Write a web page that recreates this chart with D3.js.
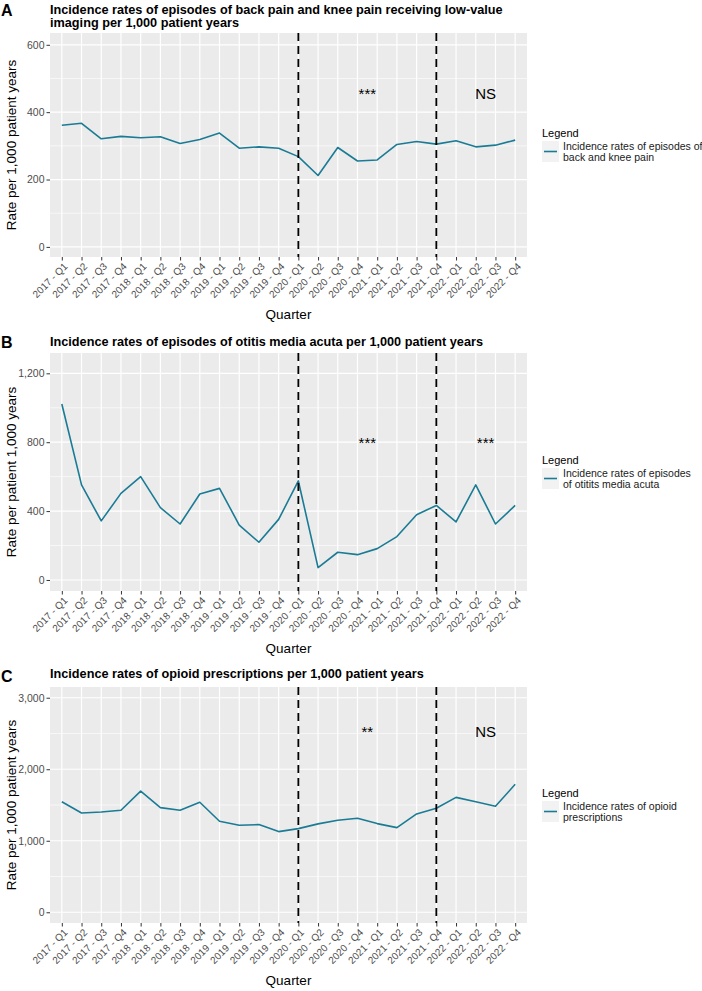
<!DOCTYPE html>
<html>
<head>
<meta charset="utf-8">
<script src="https://cdn.jsdelivr.net/npm/d3@7"></script>
<style>
  body { margin: 0; background: #fff; }
  svg { font-family: "Liberation Sans", Arial, sans-serif; }
</style>
</head>
<body>
<svg id="main" width="702" height="991"></svg>
<script>
// quarters on the x axis
var quarters = [];
[2017, 2018, 2019, 2020, 2021, 2022].forEach(function(yr) {
  ["Q1", "Q2", "Q3", "Q4"].forEach(function(q) { quarters.push(yr + " - " + q); });
});

// values (rate per 1,000 patient years)
var backKneeRates = [361, 367, 321, 328, 324, 327, 307, 319, 338, 293, 297, 293,
                     268, 212, 295, 255, 258, 304, 313, 305, 315, 297, 302, 317];
var otitisRates = [1022, 552, 343, 503, 600, 420, 325, 499, 532, 319, 219, 352,
                   575, 72, 161, 147, 182, 252, 379, 433, 337, 552, 325, 433];
var opioidRates = [1546, 1389, 1403, 1426, 1695, 1463, 1426, 1538, 1273, 1217, 1226, 1128,
                   1170, 1236, 1287, 1315, 1240, 1184, 1375, 1454, 1607, 1546, 1482, 1789];

// dashed break lines
var breakQuarters = ["2020 - Q1", "2021 - Q4"];

// significance labels per period
var sigA = ["***", "NS"];
var sigB = ["***", "***"];
var sigC = ["**", "NS"];

var ticksA = [0, 200, 400, 600];
var ticksB = [0, 400, 800, 1200];
var ticksC = [0, 1000, 2000, 3000];

var svg = d3.select("#main");
var teal = "#1a7b95";
var left = 50, right = 527;

function drawPanel(cfg)
{
  var g = svg.append("g");

  var x = d3.scalePoint().domain(quarters).range([left, right]).padding(0.6);
  var y = d3.scaleLinear().domain(cfg.domain).range([cfg.bottom, cfg.top]);

  // panel background
  g.append("rect")
    .attr("x", left).attr("y", cfg.top)
    .attr("width", right - left).attr("height", cfg.bottom - cfg.top)
    .attr("fill", "#ebebeb");

  // minor grid
  for (var i = 0; i < cfg.ticks.length - 1; i++) {
    var mv = (cfg.ticks[i] + cfg.ticks[i + 1]) / 2;
    g.append("line")
      .attr("x1", left).attr("x2", right)
      .attr("y1", y(mv)).attr("y2", y(mv))
      .attr("stroke", "#fff").attr("stroke-width", 0.6);
  }
  // major grid
  cfg.ticks.forEach(function(t) {
    g.append("line")
      .attr("x1", left).attr("x2", right)
      .attr("y1", y(t)).attr("y2", y(t))
      .attr("stroke", "#fff").attr("stroke-width", 1.2);
  });
  quarters.forEach(function(q) {
    g.append("line")
      .attr("x1", x(q)).attr("x2", x(q))
      .attr("y1", cfg.top).attr("y2", cfg.bottom)
      .attr("stroke", "#fff").attr("stroke-width", 1.2);
  });

  // y axis
  var yAxis = g.append("g")
    .attr("transform", "translate(" + left + ",0)")
    .call(d3.axisLeft(y).tickValues(cfg.ticks).tickSize(3.5).tickPadding(2)
      .tickFormat(d3.format(",")));
  yAxis.select(".domain").remove();
  yAxis.selectAll("line").attr("stroke", "#333");
  yAxis.selectAll("text").attr("fill", "#4d4d4d").attr("font-size", "10.5px")
    .attr("font-family", "Liberation Sans, Arial, sans-serif");

  // x axis
  var xAxis = g.append("g")
    .attr("transform", "translate(0," + cfg.bottom + ")")
    .call(d3.axisBottom(x).tickSize(3.5).tickFormat(""));
  xAxis.select(".domain").remove();
  xAxis.selectAll("line").attr("stroke", "#333");
  quarters.forEach(function(q) {
    g.append("text")
      .attr("transform", "translate(" + (x(q) + 1.5) + "," + (cfg.bottom + 5) + ") rotate(-45)")
      .attr("text-anchor", "end")
      .attr("dy", "0.7em")
      .attr("font-size", "10px")
      .attr("fill", "#4d4d4d")
      .text(q);
  });

  // series line
  var line = d3.line()
    .x(function(d, i) { return x(quarters[i]); })
    .y(function(d) { return y(d); });
  g.append("path")
    .datum(cfg.values)
    .attr("d", line)
    .attr("fill", "none")
    .attr("stroke", teal)
    .attr("stroke-width", 1.6)
    .attr("stroke-linejoin", "round");

  // dashed break lines
  breakQuarters.forEach(function(q) {
    g.append("line")
      .attr("x1", x(q)).attr("x2", x(q))
      .attr("y1", cfg.top).attr("y2", cfg.bottom)
      .attr("stroke", "#000").attr("stroke-width", 1.8)
      .attr("stroke-dasharray", "8,5");
  });

  // significance labels, one per period after the first break
  var step = x.step();
  var labelX = [x(quarters[0]) + step * 15.5, x(quarters[0]) + step * 21.5];
  cfg.sig.forEach(function(s, k) {
    g.append("text")
      .attr("x", labelX[k])
      .attr("y", y(cfg.sigY))
      .attr("dy", "0.36em")
      .attr("text-anchor", "middle")
      .attr("font-size", "15px")
      .attr("fill", "#000")
      .text(s);
  });

  // panel letter and title
  g.append("text")
    .attr("x", 1).attr("y", cfg.letterY)
    .attr("font-size", "16px").attr("font-weight", "bold")
    .text(cfg.letter);
  cfg.title.forEach(function(t, k) {
    g.append("text")
      .attr("x", left).attr("y", cfg.titleY + k * 13)
      .attr("font-size", "12.7px").attr("font-weight", "bold")
      .text(t);
  });

  // axis titles
  g.append("text")
    .attr("transform", "translate(16," + ((cfg.top + cfg.bottom) / 2) + ") rotate(-90)")
    .attr("text-anchor", "middle")
    .attr("font-size", "13.5px")
    .text(cfg.yTitle);
  g.append("text")
    .attr("x", (left + right) / 2).attr("y", cfg.bottom + 62)
    .attr("text-anchor", "middle")
    .attr("font-size", "13.5px")
    .text("Quarter");

  // legend
  var ly = (cfg.top + cfg.bottom) / 2;
  g.append("text")
    .attr("x", 542).attr("y", ly - 8)
    .attr("font-size", "11px").attr("fill", "#000")
    .text("Legend");
  g.append("rect")
    .attr("x", 542).attr("y", ly - 4)
    .attr("width", 17).attr("height", 21)
    .attr("fill", "#f2f2f2");
  g.append("line")
    .attr("x1", 544).attr("x2", 557)
    .attr("y1", ly + 6.5).attr("y2", ly + 6.5)
    .attr("stroke", teal).attr("stroke-width", 1.6);
  cfg.legend.forEach(function(t, k) {
    g.append("text")
      .attr("x", 563).attr("y", ly + 5 + k * 11)
      .attr("font-size", "10.5px").attr("fill", "#1a1a1a")
      .text(t);
  });
}

drawPanel({
  top: 33, bottom: 257, domain: [-30, 635], ticks: ticksA, values: backKneeRates,
  sig: sigA, sigY: 455, letter: "A", letterY: 16, titleY: 13.5,
  title: ["Incidence rates of episodes of back pain and knee pain receiving low-value",
          "imaging per 1,000 patient years"],
  yTitle: "Rate per 1,000 patient years",
  legend: ["Incidence rates of episodes of", "back and knee pain"]
});
drawPanel({
  top: 353, bottom: 591, domain: [-64, 1318], ticks: ticksB, values: otitisRates,
  sig: sigB, sigY: 800, letter: "B", letterY: 348, titleY: 346,
  title: ["Incidence rates of episodes of otitis media acuta per 1,000 patient years"],
  yTitle: "Rate per patient 1,000 years",
  legend: ["Incidence rates of episodes", "of otitits media acuta"]
});
drawPanel({
  top: 687, bottom: 923, domain: [-150, 3150], ticks: ticksC, values: opioidRates,
  sig: sigC, sigY: 2520, letter: "C", letterY: 682, titleY: 678,
  title: ["Incidence rates of opioid prescriptions per 1,000 patient years"],
  yTitle: "Rate per 1,000 patient years",
  legend: ["Incidence rates of opioid", "prescriptions"]
});
</script>
</body>
</html>
